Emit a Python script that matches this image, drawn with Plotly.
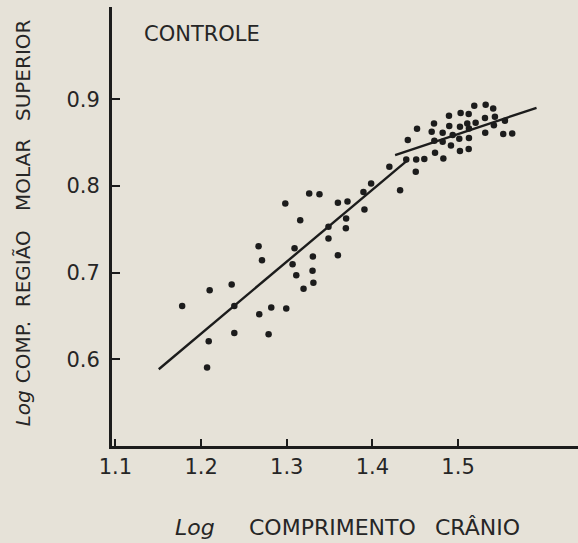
import plotly.graph_objects as go

# Scatter data (Log comprimento crânio, Log comp. região molar superior)
log_cranio = [
    1.2711, 1.2671, 1.3305, 1.3068, 1.3111, 1.3301, 1.3311, 1.3196, 1.2357, 1.2100,
    1.1779, 1.2388, 1.2819, 1.2994, 1.2679, 1.2388, 1.2788, 1.2089, 1.2070,
    1.4198, 1.4506, 1.3985, 1.3895, 1.4323, 1.3262, 1.3382, 1.2983, 1.3597, 1.3709,
    1.3907, 1.3157, 1.3693, 1.3487, 1.3690, 1.3487, 1.3091, 1.3597,
    1.5189, 1.5322, 1.5410, 1.4894, 1.5030, 1.5124, 1.5314, 1.5430, 1.5547, 1.4719,
    1.4897, 1.5022, 1.5107, 1.5205, 1.5418, 1.4521, 1.4692, 1.4820, 1.4937, 1.5127,
    1.5317, 1.5527, 1.5632, 1.4413, 1.4723, 1.4820, 1.5014, 1.5127, 1.4917, 1.5022,
    1.5124, 1.4731, 1.4828, 1.4395, 1.4511, 1.4606,
]
log_molar = [
    0.7144, 0.7306, 0.7187, 0.7098, 0.6971, 0.7023, 0.6885, 0.6815, 0.6864, 0.6798,
    0.6617, 0.6617, 0.6598, 0.6587, 0.6521, 0.6305, 0.6290, 0.6209, 0.5905,
    0.8222, 0.8166, 0.8030, 0.7930, 0.7950, 0.7915, 0.7906, 0.7799, 0.7806, 0.7822,
    0.7730, 0.7606, 0.7626, 0.7529, 0.7514, 0.7395, 0.7283, 0.7202,
    0.8926, 0.8938, 0.8896, 0.8811, 0.8842, 0.8830, 0.8784, 0.8799, 0.8753, 0.8723,
    0.8692, 0.8684, 0.8723, 0.8730, 0.8700, 0.8661, 0.8626, 0.8614, 0.8588, 0.8665,
    0.8614, 0.8599, 0.8607, 0.8530, 0.8522, 0.8510, 0.8545, 0.8553, 0.8469, 0.8403,
    0.8426, 0.8383, 0.8319, 0.8307, 0.8307, 0.8311,
]

# Fitted lines (endpoints)
line1_x = [1.1506, 1.4401]
line1_y = [0.5886, 0.8291]
line2_x = [1.4265, 1.5916]
line2_y = [0.8357, 0.8903]

x_ticks = [1.1, 1.2, 1.3, 1.4, 1.5]
x_tick_labels = ["1.1", "1.2", "1.3", "1.4", "1.5"]
y_ticks = [0.6, 0.7, 0.8, 0.9]
y_tick_labels = ["0.6", "0.7", "0.8", "0.9"]

panel_label = "CONTROLE"
x_title_words = ["<i>Log</i>", "COMPRIMENTO", "CRÂNIO"]
y_title_words = ["<i>Log</i>", "COMP.", "REGIÃO", "MOLAR", "SUPERIOR"]

bg = "#e6e2d8"
ink = "#1c1c1c"
txt = "#262626"
font_family = "DejaVu Sans, Verdana, sans-serif"

fig = go.Figure()
fig.add_trace(go.Scatter(x=line1_x, y=line1_y, mode="lines",
                         line=dict(color=ink, width=2.4), showlegend=False, hoverinfo="skip"))
fig.add_trace(go.Scatter(x=line2_x, y=line2_y, mode="lines",
                         line=dict(color=ink, width=2.4), showlegend=False, hoverinfo="skip"))
fig.add_trace(go.Scatter(x=log_cranio, y=log_molar, mode="markers",
                         marker=dict(color=ink, size=6.5), showlegend=False))

# plot area in pixels: left 112, right 578, top 7, bottom 445.7
L, R, T, B = 112, 578, 7, 445.7
def px(xp):
    return (xp - L) / (R - L)
def py(yp):
    return (B - yp) / (B - T)

annotations = [
    dict(text=panel_label, xref="paper", yref="paper", x=px(142), y=py(34),
         xanchor="left", yanchor="middle", showarrow=False,
         font=dict(size=21, color=txt)),
]
# x-axis title words (left edges in px)
for word, left in zip(x_title_words, [173, 247, 433]):
    annotations.append(dict(text=word, xref="paper", yref="paper", x=px(left), y=py(527),
                            xanchor="left", yanchor="middle", showarrow=False,
                            font=dict(size=22, color=txt)))
# y-axis title words (vertical centres in px)
for word, cy in zip(y_title_words, [408, 352, 269, 175, 70]):
    annotations.append(dict(text=word, xref="paper", yref="paper", x=px(23), y=py(cy),
                            textangle=-90, xanchor="center", yanchor="middle",
                            showarrow=False, font=dict(size=20, color=txt)))

fig.update_layout(
    width=578, height=543,
    margin=dict(l=L, r=0, t=T, b=97),
    paper_bgcolor=bg, plot_bgcolor=bg,
    font=dict(family=font_family, color=txt, size=21),
    xaxis=dict(range=[1.096, 1.64], showgrid=False, zeroline=False,
               showline=True, linecolor=ink, linewidth=3,
               tickmode="array", tickvals=x_ticks, ticktext=x_tick_labels,
               ticks="inside", ticklen=7, tickwidth=1.5, tickcolor=ink,
               ticklabelstandoff=0, tickfont=dict(size=21)),
    yaxis=dict(range=[0.5, 1.0066], showgrid=False, zeroline=False,
               showline=True, linecolor=ink, linewidth=3,
               tickmode="array", tickvals=y_ticks, ticktext=y_tick_labels,
               ticks="inside", ticklen=8, tickwidth=1.5, tickcolor=ink,
               ticklabelstandoff=5, tickfont=dict(size=21)),
    annotations=annotations,
)

fig.write_html(
    "out.html",
    config={"displayModeBar": False},
    post_script=f"document.body.style.margin='0';document.body.style.background='{bg}';",
)
